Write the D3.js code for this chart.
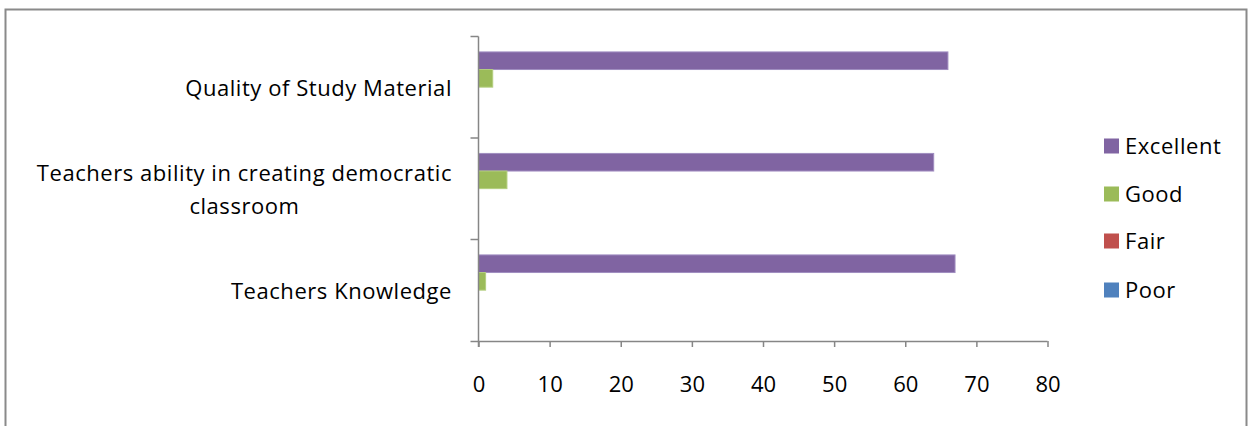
<!DOCTYPE html>
<html>
<head>
<meta charset="utf-8">
<script src="https://cdn.jsdelivr.net/npm/d3@7"></script>
<style>
  html, body { margin: 0; padding: 0; background: #fff; }
  svg { display: block; }
  text { font-family: "Open Sans", sans-serif; fill: #000; }
</style>
</head>
<body>
<svg id="chart" width="1248" height="426"></svg>
<script>
// ---- data ----
const categories = ["Quality of Study Material", "Teachers ability in creating democratic classroom", "Teachers Knowledge"];
const categoryLines = [["Quality of Study Material"], ["Teachers ability in creating democratic", "classroom"], ["Teachers Knowledge"]];
const seriesNames = ["Excellent", "Good", "Fair", "Poor"];
const excellent = [66, 64, 67];
const good = [2, 4, 1];
const fair = [0, 0, 0];
const poor = [0, 0, 0];
const xTicks = [0, 10, 20, 30, 40, 50, 60, 70, 80];
const seriesColors = ["#8064A2", "#9BBB59", "#C0504D", "#4F81BD"];
const seriesStroke = ["#A08DC0", "#B3CE7E", "#D07A77", "#7A9FD0"];

const seriesValues = [excellent, good, fair, poor];
const FONT = "'Open Sans', sans-serif";
const FS = "22px";
const LS = "0.55px";

const svg = d3.select("#chart");

// chart border
svg.append("path")
  .attr("d", "M5.5,440 L5.5,9.5 L1246.5,9.5 L1246.5,440")
  .attr("fill", "none")
  .attr("stroke", "#8a8a8a")
  .attr("stroke-width", 2);

const plot = { left: 478.5, right: 1047.5, top: 36.5, bottom: 341 };

const x = d3.scaleLinear().domain([0, 80]).range([plot.left, plot.right]);
const y = d3.scaleBand().domain(categories).range([plot.top, plot.bottom]).padding(0);
const bw = y.bandwidth();
const inner = d3.scaleBand().domain(seriesNames).range([bw * 0.152, bw * 0.152 + 4 * 17.6]).padding(0);

// bars
const groups = svg.append("g").selectAll("g")
  .data(categories)
  .join("g")
  .attr("transform", d => `translate(0,${y(d)})`);

groups.selectAll("rect")
  .data((c, ci) => seriesNames.map((s, si) => ({ s, si, v: seriesValues[si][ci] })).filter(d => d.v > 0))
  .join("rect")
  .attr("x", x(0))
  .attr("y", d => inner(d.s))
  .attr("width", d => x(d.v) - x(0))
  .attr("height", inner.bandwidth())
  .attr("fill", d => seriesColors[d.si])
  .attr("stroke", d => seriesStroke[d.si])
  .attr("stroke-width", 1);

// x axis
const xAxis = svg.append("g")
  .attr("transform", `translate(0,${plot.bottom})`)
  .call(d3.axisBottom(x).tickValues(xTicks).tickSize(6).tickPadding(29).tickSizeOuter(0));
xAxis.select(".domain").attr("stroke", "#868686").attr("stroke-width", 1.5).attr("d", `M${plot.left - 8},0.5H${plot.right}`);
xAxis.selectAll(".tick line").attr("stroke", "#868686").attr("stroke-width", 1.5);
xAxis.selectAll(".tick text").style("font-size", "22px").style("font-family", FONT).attr("fill", "#000");

// y axis
const yAxisG = svg.append("g");
yAxisG.append("line")
  .attr("x1", plot.left).attr("x2", plot.left)
  .attr("y1", plot.top).attr("y2", plot.bottom + 6)
  .attr("stroke", "#868686").attr("stroke-width", 1.5);
const yBoundaries = categories.map(c => y(c));
yAxisG.selectAll("line.tk")
  .data(yBoundaries)
  .join("line")
  .attr("class", "tk")
  .attr("x1", plot.left - 8).attr("x2", plot.left)
  .attr("y1", d => d).attr("y2", d => d)
  .attr("stroke", "#868686").attr("stroke-width", 1.5);

// category labels (right-aligned block, lines centered within block)
categories.forEach((c, ci) => {
  const lines = categoryLines[ci];
  const lineH = 33;
  const cy = y(c) + bw / 2 + 1;
  const g = svg.append("g");
  const texts = lines.map((l, li) => g.append("text")
    .attr("y", cy + (li - (lines.length - 1) / 2) * lineH)
    .attr("dy", "0.35em")
    .style("font-size", FS)
    .style("letter-spacing", LS)
    .attr("text-anchor", "middle")
    .text(l));
  const widths = texts.map(t => t.node().getComputedTextLength());
  const maxW = d3.max(widths);
  const rightEdge = 452;
  texts.forEach(t => t.attr("x", rightEdge - maxW / 2));
});

// legend
const legendY = [146, 194, 241, 290];
const legend = svg.append("g");
seriesNames.forEach((s, i) => {
  legend.append("rect")
    .attr("x", 1104).attr("y", legendY[i] - 7.5)
    .attr("width", 15).attr("height", 15)
    .attr("fill", seriesColors[i]);
  legend.append("text")
    .attr("x", 1125).attr("y", legendY[i])
    .attr("dy", "0.35em")
    .style("font-size", FS)
    .style("letter-spacing", LS)
    .text(s);
});
</script>
</body>
</html>
